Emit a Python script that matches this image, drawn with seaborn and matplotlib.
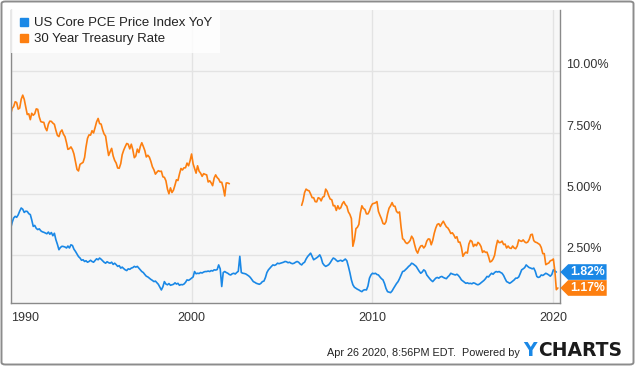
import numpy as np
import pandas as pd
import matplotlib
matplotlib.use("Agg")
import matplotlib.pyplot as plt
import seaborn as sns
from matplotlib.lines import Line2D
from matplotlib.patches import FancyBboxPatch
from matplotlib.path import Path

# ---------------- data (monthly) ----------------
series_names = ["US Core PCE Price Index YoY", "30 Year Treasury Rate"]

pce_start = "1990-01-01"
pce_yoy = [
    3.61, 3.85, 4.02, 4.09, 4.05, 4.15, 4.30, 4.43, 4.38, 4.25, 4.30, 4.29,  # 1990
    4.20, 4.16, 3.95, 3.68, 3.72, 3.60, 3.55, 3.58, 3.50, 3.46, 3.44, 3.41,  # 1991
    3.38, 3.45, 3.36, 3.43, 3.30, 3.40, 3.14, 2.95, 2.73, 2.82, 2.87, 2.86,  # 1992
    2.84, 2.80, 2.88, 2.80, 2.93, 2.90, 2.75, 2.66, 2.55, 2.45, 2.39, 2.30,  # 1993
    2.32, 2.25, 2.28, 2.22, 2.25, 2.30, 2.25, 2.22, 2.29, 2.36, 2.32, 2.39,  # 1994
    2.34, 2.28, 2.22, 2.18, 2.24, 2.20, 2.18, 2.22, 2.13, 2.18, 2.12, 2.05,  # 1995
    2.08, 1.98, 2.02, 1.96, 1.91, 1.88, 1.95, 1.93, 1.98, 2.00, 2.05, 2.02,  # 1996
    2.05, 1.98, 1.92, 1.84, 1.80, 1.72, 1.65, 1.62, 1.57, 1.52, 1.48, 1.43,  # 1997
    1.45, 1.38, 1.32, 1.20, 1.09, 1.22, 1.43, 1.33, 1.30, 1.35, 1.28, 1.30,  # 1998
    1.32, 1.38, 1.33, 1.36, 1.28, 1.31, 1.30, 1.33, 1.40, 1.50, 1.48, 1.52,  # 1999
    1.57, 1.62, 1.84, 1.75, 1.77, 1.76, 1.80, 1.78, 1.82, 1.84, 1.84, 1.86,  # 2000
    1.84, 1.88, 1.86, 1.91, 1.90, 1.92, 2.11, 1.95, 1.23, 1.80, 1.84, 1.80,  # 2001
    1.77, 1.72, 1.70, 1.75, 1.77, 1.74, 1.80, 1.85, 2.46, 1.80, 1.77, 1.76,  # 2002
    1.74, 1.70, 1.66, 1.60, 1.52, 1.43, 1.40, 1.36, 1.34, 1.32, 1.36, 1.43,  # 2003
    1.45, 1.60, 1.80, 1.91, 1.98, 2.05, 2.11, 2.09, 2.12, 2.18, 2.16, 2.18,  # 2004
    2.20, 2.22, 2.25, 2.24, 2.20, 2.22, 2.18, 2.16, 2.18, 2.22, 2.25, 2.22,  # 2005
    2.15, 2.11, 2.18, 2.22, 2.35, 2.45, 2.52, 2.59, 2.45, 2.32, 2.36, 2.40,  # 2006
    2.45, 2.52, 2.40, 2.18, 2.10, 2.05, 2.08, 2.12, 2.20, 2.30, 2.39, 2.36,  # 2007
    2.30, 2.25, 2.28, 2.30, 2.26, 2.30, 2.35, 2.28, 2.05, 1.80, 1.50, 1.30,  # 2008
    1.20, 1.16, 1.12, 1.09, 1.05, 1.02, 1.08, 1.10, 1.09, 1.25, 1.57, 1.70,  # 2009
    1.77, 1.75, 1.77, 1.72, 1.70, 1.62, 1.55, 1.50, 1.35, 1.15, 1.02, 1.00,  # 2010
    0.98, 1.05, 1.15, 1.25, 1.35, 1.43, 1.55, 1.70, 1.84, 1.86, 1.92, 1.98,  # 2011
    2.05, 2.10, 2.18, 2.15, 2.10, 2.05, 1.95, 1.85, 1.77, 1.82, 1.91, 1.86,  # 2012
    1.70, 1.62, 1.55, 1.48, 1.43, 1.50, 1.57, 1.60, 1.57, 1.62, 1.64, 1.60,  # 2013
    1.57, 1.55, 1.62, 1.68, 1.77, 1.74, 1.72, 1.70, 1.73, 1.68, 1.60, 1.50,  # 2014
    1.45, 1.40, 1.36, 1.38, 1.35, 1.36, 1.34, 1.38, 1.36, 1.32, 1.30, 1.33,  # 2015
    1.38, 1.43, 1.48, 1.55, 1.64, 1.62, 1.70, 1.77, 1.73, 1.80, 1.84, 1.82,  # 2016
    1.84, 1.80, 1.77, 1.68, 1.55, 1.43, 1.40, 1.36, 1.40, 1.45, 1.50, 1.57,  # 2017
    1.57, 1.62, 1.75, 1.91, 1.95, 2.00, 2.11, 2.05, 2.00, 1.98, 1.95, 1.98,  # 2018
    1.85, 1.64, 1.60, 1.62, 1.70, 1.68, 1.72, 1.77, 1.74, 1.70, 1.65, 1.72,  # 2019
    1.91, 1.86, 1.82,                                                        # 2020
]

tsy_seg1_start = "1990-01-01"
tsy_seg1 = [
    8.26, 8.50, 8.56, 8.76, 8.73, 8.46, 8.50, 8.86, 9.03, 8.86, 8.54, 8.24,  # 1990
    8.27, 8.03, 8.29, 8.21, 8.27, 8.47, 8.45, 8.14, 7.95, 7.93, 7.92, 7.70,  # 1991
    7.58, 7.85, 7.97, 7.96, 7.89, 7.84, 7.60, 7.39, 7.34, 7.53, 7.61, 7.44,  # 1992
    7.34, 7.09, 6.82, 6.85, 6.92, 6.81, 6.63, 6.32, 6.00, 5.94, 6.21, 6.25,  # 1993
    6.29, 6.49, 6.91, 7.27, 7.41, 7.40, 7.58, 7.49, 7.71, 7.94, 8.08, 7.87,  # 1994
    7.85, 7.61, 7.45, 7.36, 6.95, 6.57, 6.72, 6.86, 6.55, 6.37, 6.26, 6.06,  # 1995
    6.05, 6.24, 6.60, 6.79, 6.93, 7.06, 7.03, 6.84, 7.03, 6.81, 6.48, 6.55,  # 1996
    6.83, 6.69, 6.93, 7.09, 6.94, 6.77, 6.51, 6.58, 6.50, 6.33, 6.11, 5.99,  # 1997
    5.81, 5.89, 5.95, 5.92, 5.93, 5.70, 5.68, 5.54, 5.20, 5.01, 5.25, 5.06,  # 1998
    5.16, 5.37, 5.58, 5.55, 5.81, 6.04, 5.98, 6.07, 6.07, 6.26, 6.15, 6.35,  # 1999
    6.63, 6.23, 6.05, 5.85, 6.15, 5.93, 5.85, 5.72, 5.83, 5.80, 5.78, 5.49,  # 2000
    5.54, 5.45, 5.34, 5.65, 5.78, 5.67, 5.61, 5.48, 5.48, 5.25, 4.92, 5.45,  # 2001
    5.45, 5.42,                                                              # 2002
]

tsy_seg2_start = "2006-02-01"
tsy_seg2 = [
    4.54, 4.73, 5.06, 5.20, 5.15, 5.13, 5.00, 4.85, 4.85, 4.69, 4.68,        # 2006
    4.85, 4.82, 4.72, 4.87, 4.90, 5.20, 5.11, 4.93, 4.79, 4.77, 4.52, 4.53,  # 2007
    4.33, 4.52, 4.39, 4.44, 4.60, 4.69, 4.57, 4.50, 4.27, 4.17, 4.00, 2.87,  # 2008
    3.13, 3.59, 3.64, 3.76, 4.23, 4.52, 4.41, 4.37, 4.19, 4.19, 4.31, 4.49,  # 2009
    4.60, 4.62, 4.64, 4.69, 4.29, 4.13, 3.99, 3.80, 3.77, 3.87, 4.19, 4.42,  # 2010
    4.52, 4.65, 4.51, 4.50, 4.29, 4.23, 4.27, 3.65, 3.18, 3.13, 3.02, 2.98,  # 2011
    3.03, 3.11, 3.28, 3.18, 2.93, 2.70, 2.59, 2.77, 2.88, 2.90, 2.80, 2.88,  # 2012
    3.08, 3.17, 3.16, 2.93, 3.11, 3.40, 3.61, 3.76, 3.79, 3.68, 3.80, 3.89,  # 2013
    3.77, 3.66, 3.62, 3.52, 3.39, 3.42, 3.33, 3.20, 3.26, 3.04, 3.04, 2.83,  # 2014
    2.46, 2.57, 2.63, 2.59, 2.96, 3.11, 3.07, 2.86, 2.95, 2.89, 3.03, 2.97,  # 2015
    2.86, 2.62, 2.68, 2.62, 2.63, 2.45, 2.23, 2.26, 2.35, 2.50, 2.86, 3.11,  # 2016
    3.02, 3.03, 3.08, 2.94, 2.96, 2.80, 2.88, 2.80, 2.78, 2.88, 2.80, 2.77,  # 2017
    2.88, 3.13, 3.09, 3.07, 3.13, 3.05, 3.01, 3.04, 3.15, 3.34, 3.36, 3.10,  # 2018
    3.04, 3.02, 2.98, 2.94, 2.82, 2.57, 2.57, 2.12, 2.16, 2.19, 2.28, 2.30,  # 2019
    2.35, 1.85, 1.10, 1.17,                                                  # 2020
]

last_labels = ["1.82%", "1.17%"]
last_values = [1.82, 1.17]
y_ticks = [2.5, 5.0, 7.5, 10.0]
y_tick_labels = ["2.50%", "5.00%", "7.50%", "10.00%"]
x_tick_years = [1990, 2000, 2010, 2020]
footer_text = "Apr 26 2020, 8:56PM EDT.  Powered by"

# ---------------- build table ----------------
frames = []
for name, start, vals, seg in [
    (series_names[0], pce_start, pce_yoy, 0),
    (series_names[1], tsy_seg1_start, tsy_seg1, 1),
    (series_names[1], tsy_seg2_start, tsy_seg2, 2),
]:
    frames.append(pd.DataFrame({
        "date": pd.date_range(start, periods=len(vals), freq="MS"),
        "value": vals,
        "series": name,
        "segment": seg,
    }))
df = pd.concat(frames, ignore_index=True)

# ---------------- styling ----------------
BLUE = "#1a88e6"
ORANGE = "#fd7f10"
sns.set_style("white")
plt.rcParams["font.family"] = ["Liberation Sans", "DejaVu Sans"]

W, H = 635, 366
fig = plt.figure(figsize=(W / 100, H / 100), dpi=100)
fig.patch.set_facecolor("white")

ax_l, ax_r, ax_t, ax_b = 10.7, 560, 10, 302.7
ax = fig.add_axes([ax_l / W, 1 - ax_b / H, (ax_r - ax_l) / W, (ax_b - ax_t) / H])
ax.set_facecolor("#f7f7f7")

sns.lineplot(data=df, x="date", y="value", hue="series", units="segment",
             estimator=None, palette=[BLUE, ORANGE], linewidth=1.2,
             legend=False, ax=ax, sort=False)

ax.set_xlim(pd.Timestamp("1990-01-01"), pd.Timestamp("2020-05-14"))
ax.set_ylim(0.57, 12.5)
ax.set_xlabel("")
ax.set_ylabel("")

# grid
ax.set_axisbelow(True)
ax.grid(True, color="#e3e3e3", linewidth=1.0)

# x ticks
xt = [pd.Timestamp(f"{y}-01-01") for y in x_tick_years]
ax.set_xticks(xt)
ax.set_xticklabels([str(y) for y in x_tick_years])
ax.tick_params(axis="x", length=0, pad=6.5, labelsize=9, labelcolor="#333333")
ax.get_xticklabels()[0].set_horizontalalignment("left")

# y ticks on the right, sitting just above their grid lines
ax.yaxis.tick_right()
ax.set_yticks(y_ticks)
ax.set_yticklabels(y_tick_labels)
ax.tick_params(axis="y", length=0, pad=4.5, labelsize=9, labelcolor="#333333")
for lbl in ax.get_yticklabels():
    lbl.set_horizontalalignment("left")
    lbl.set_verticalalignment("bottom")

for side in ["left", "bottom", "right"]:
    ax.spines[side].set_color("#8a8a8a")
    ax.spines[side].set_linewidth(1.0)
ax.spines["top"].set_visible(False)

# legend
handles = [Line2D([], [], marker="s", ls="none", color=c, markersize=5.8)
           for c in [BLUE, ORANGE]]
leg = ax.legend(handles, series_names, loc="upper left", bbox_to_anchor=(0, 1),
                borderaxespad=0, frameon=True, fancybox=False, facecolor="white",
                framealpha=0.8, edgecolor="none", fontsize=9.5,
                handlelength=0.9, handletextpad=0.35, labelspacing=0.28,
                borderpad=0.55)
for t in leg.get_texts():
    t.set_color("#222222")


# value tags at right edge
def tag_box(x0, y0, width, height, mutation_size):
    pad = mutation_size * 0.15
    x0 -= pad
    y0 -= pad
    width += 2 * pad
    height += 2 * pad
    tip = height / 2
    verts = [(x0 - tip, y0 + height / 2), (x0, y0), (x0 + width, y0),
             (x0 + width, y0 + height), (x0, y0 + height),
             (x0 - tip, y0 + height / 2)]
    return Path(verts, closed=True)


for lab, val, col in zip(last_labels, last_values, [BLUE, ORANGE]):
    ax.annotate(lab, xy=(1, val), xycoords=("axes fraction", "data"),
                xytext=(7.2, 0), textcoords="offset points",
                ha="left", va="center", color="white", fontsize=8.8,
                fontweight="bold", annotation_clip=False,
                bbox=dict(boxstyle=tag_box, fc=col, ec="none"))

# footer
fig.text(520 / W, 1 - 356 / H, footer_text, ha="right", va="baseline",
         fontsize=7.8, color="#222222")
fig.text(523 / W, 1 - 356 / H, "Y", ha="left", va="baseline", fontsize=13.5,
         fontweight="bold", color="#1a88e6", family="DejaVu Sans")
fig.text(538 / W, 1 - 356 / H, "CHARTS", ha="left", va="baseline", fontsize=13.5,
         fontweight="bold", color="#1b1b1b", family="DejaVu Sans")

# outer border
fig.patches.append(FancyBboxPatch((1.5 / W, 1.5 / H), 1 - 3 / W, 1 - 3 / H,
                                  boxstyle="round,pad=0,rounding_size=0.006",
                                  transform=fig.transFigure, fc="none",
                                  ec="#8c8c8c", lw=1.4))

fig.savefig("out.png", dpi=100)
